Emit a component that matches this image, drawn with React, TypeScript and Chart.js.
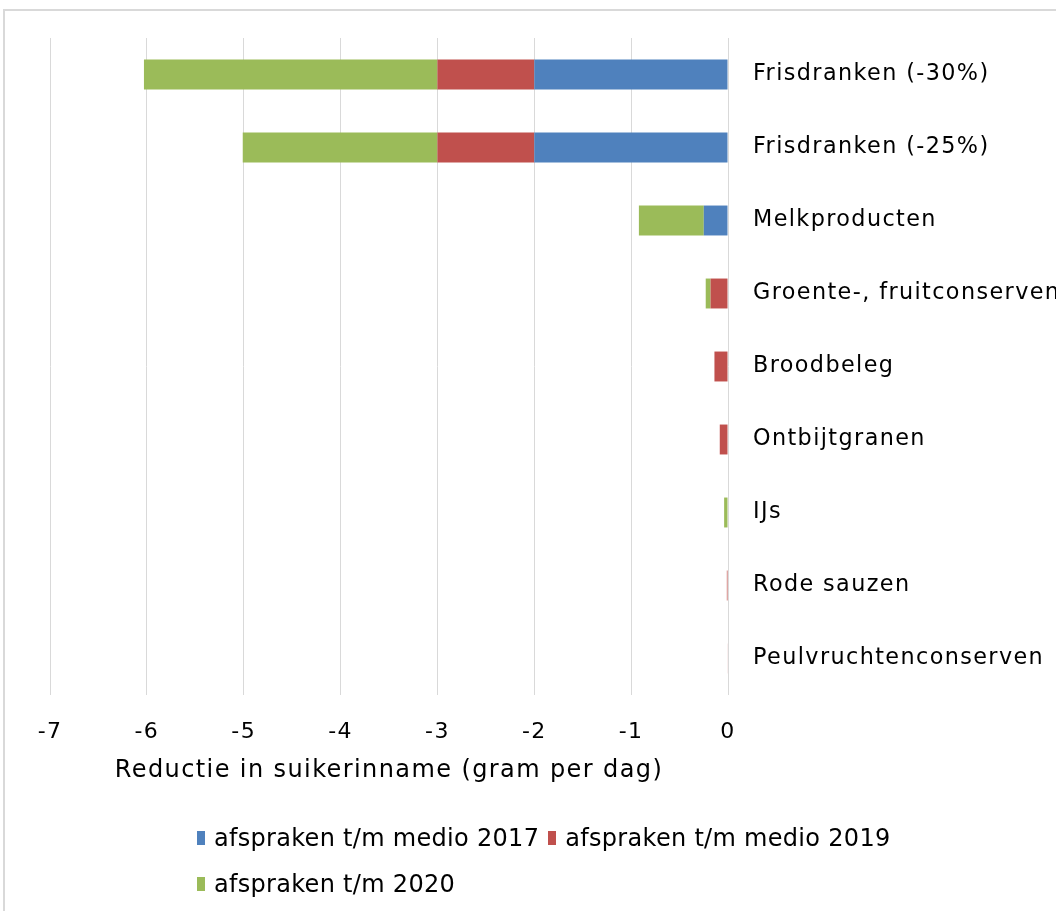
import React, { useEffect, useRef } from "react";
import { Chart, registerables } from "chart.js";

Chart.register(...registerables);

const categories = [
  "Frisdranken (-30%)",
  "Frisdranken (-25%)",
  "Melkproducten",
  "Groente-, fruitconserven",
  "Broodbeleg",
  "Ontbijtgranen",
  "IJs",
  "Rode sauzen",
  "Peulvruchtenconserven",
];
const seriesLabels = [
  "afspraken t/m medio 2017",
  "afspraken t/m medio 2019",
  "afspraken t/m 2020",
];
const medio2017 = [-2.0, -2.0, -0.25, 0, 0, 0, 0, 0, 0];
const medio2019 = [-1.0, -1.0, 0, -0.18, -0.14, -0.085, 0, -0.012, -0.006];
const tm2020 = [-3.03, -2.01, -0.67, -0.05, 0, 0, -0.04, 0, 0];
const xTicks = [-7, -6, -5, -4, -3, -2, -1, 0];
const xTitle = "Reductie in suikerinname (gram per dag)";
const colors = ["#4F81BD", "#C0504D", "#9BBB59"];

const FONT = "'DejaVu Sans', Verdana, sans-serif";

const spacingPlugin = {
  id: "letterSpacing",
  beforeLayout(chart: any) {
    chart.ctx.letterSpacing = "1.4px";
  },
  beforeDraw(chart: any) {
    chart.ctx.letterSpacing = "1.4px";
  },
};

export default function App() {
  const ref = useRef<HTMLCanvasElement | null>(null);

  useEffect(() => {
    document.body.style.margin = "0";
    document.documentElement.style.overflow = "hidden";
    const canvas = ref.current;
    if (!canvas) return;
    const seriesData = [medio2017, medio2019, tm2020];
    const chart = new Chart(canvas, {
      type: "bar",
      data: {
        labels: categories,
        datasets: seriesData.map((d, i) => ({
          label: seriesLabels[i],
          data: d,
          backgroundColor: colors[i],
          borderWidth: 0,
          categoryPercentage: 0.41,
          barPercentage: 1,
        })),
      },
      plugins: [spacingPlugin],
      options: {
        indexAxis: "y",
        responsive: false,
        animation: false,
        maintainAspectRatio: false,
        layout: { padding: { left: 45, top: 27, right: 0, bottom: 126 } },
        plugins: {
          legend: { display: false },
          tooltip: { enabled: false },
          title: { display: false },
        },
        scales: {
          x: {
            type: "linear",
            stacked: true,
            min: -7,
            max: 0,
            afterBuildTicks: (scale: any) => {
              scale.ticks = xTicks.map((v) => ({ value: v }));
            },
            afterFit: (scale: any) => {
              scale.height = 90;
              scale.paddingLeft = 0;
              scale.paddingRight = 0;
            },
            grid: { color: "#d9d9d9", lineWidth: 1, drawTicks: false },
            border: { display: false },
            ticks: {
              padding: 24,
              color: "#000",
              font: { family: FONT, size: 22 },
              maxRotation: 0,
            },
            title: {
              display: true,
              text: xTitle,
              color: "#000",
              font: { family: FONT, size: 24 },
              padding: { top: 15, bottom: 0 },
            },
          },
          y: {
            type: "category",
            position: "right",
            stacked: true,
            grid: { display: false, drawTicks: false },
            border: { display: false },
            ticks: {
              padding: 25,
              color: "#000",
              font: { family: FONT, size: 22.3 },
            },
            afterFit: (scale: any) => {
              scale.width = 328;
              scale.paddingTop = 0;
              scale.paddingBottom = 0;
            },
          },
        },
      },
    });
    return () => chart.destroy();
  }, []);

  return (
    <div
      style={{
        position: "absolute",
        left: 3,
        top: 9,
        width: 1053,
        height: 902,
        borderLeft: "2px solid #d9d9d9",
        borderTop: "2px solid #d9d9d9",
        background: "#fff",
      }}
    >
      <canvas ref={ref} width={1051} height={900} style={{ display: "block" }} />
      <div
        style={{
          position: "absolute",
          left: 192,
          top: 813,
          width: 720,
          display: "flex",
          flexWrap: "wrap",
          rowGap: 18,
          columnGap: 9,
          fontFamily: FONT,
          fontSize: 24,
          letterSpacing: "0.3px",
          color: "#000",
          lineHeight: "28px",
        }}
      >
        {seriesLabels.map((s, i) => (
          <div key={s} style={{ display: "flex", alignItems: "center" }}>
            <span
              style={{
                display: "inline-block",
                width: 8,
                height: 14,
                background: colors[i],
                marginRight: 9,
              }}
            />
            <span style={{ whiteSpace: "nowrap" }}>{s}</span>
          </div>
        ))}
      </div>
    </div>
  );
}
